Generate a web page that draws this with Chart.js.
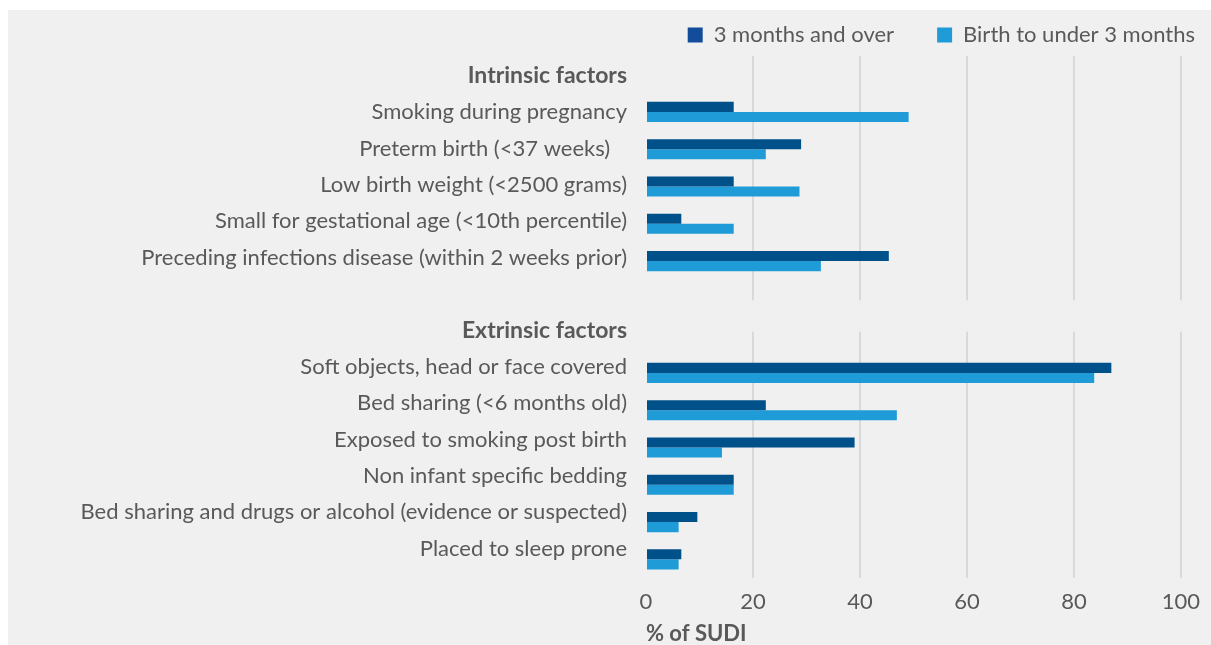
<!DOCTYPE html>
<html>
<head>
<meta charset="utf-8">
<script src="https://cdn.jsdelivr.net/npm/chart.js@4"></script>
<style>
  html, body { margin: 0; padding: 0; background: #ffffff; }
  .panel { position: absolute; left: 8px; top: 10px; width: 1203px; height: 635px; background: #f0f0f0; }
</style>
</head>
<body>
<div class="panel"><canvas id="sudiChart"></canvas></div>
<script>
// Categories (blank row separates the two groups)
const categories = [
    "Intrinsic factors",
    "Smoking during pregnancy",
    "Preterm birth (<37 weeks)   ",
    "Low birth weight (<2500 grams)",
    "Small for gestational age (<10th percentile)",
    "Preceding infections disease (within 2 weeks prior)",
    "",
    "Extrinsic factors",
    "Soft objects, head or face covered",
    "Bed sharing (<6 months old)",
    "Exposed to smoking post birth",
    "Non infant specific bedding",
    "Bed sharing and drugs or alcohol (evidence or suspected)",
    "Placed to sleep prone"
];
const headerRows = ["Intrinsic factors", "Extrinsic factors"];

// % of SUDI
const threeMonthsAndOver = [null, 16.4, 29.0, 16.4, 6.6, 45.4, null, null, 87.0, 22.4, 39.0, 16.4, 9.6, 6.6];
const birthToUnder3Months = [null, 49.1, 22.4, 28.7, 16.4, 32.7, null, null, 83.8, 46.9, 14.2, 16.4, 6.1, 6.1];

const xTicks = [0, 20, 40, 60, 80, 100];

const barColors = ["#00508a", "#1f9bd7"];
const legendColors = ["#134c9a", "#1f9bd7"];
const textColor = "#595959";
const bgColor = "#f0f0f0";
const fontFamily = "Lato, 'Open Sans', sans-serif";

// hides the gridlines in the blank row between the two groups
const groupGap = {
    id: "groupGap",
    beforeDatasetsDraw(chart) {
        const y = chart.scales.y;
        const area = chart.chartArea;
        const gapIdx = categories.indexOf("");
        const top = y.getPixelForValue(gapIdx) + 2;
        const bottom = y.getPixelForValue(gapIdx + 1) - 4;
        const ctx = chart.ctx;
        ctx.save();
        ctx.fillStyle = bgColor;
        ctx.fillRect(area.left - 3, top, area.right - area.left + 6, bottom - top);
        ctx.restore();
    }
};

// category labels in the original sit on a slightly tighter pitch than the bars
const labelPitch = {
    id: "labelPitch",
    beforeDraw(chart) {
        const y = chart.scales.y;
        const step = y.getPixelForValue(1) - y.getPixelForValue(0);
        const first = y.getPixelForValue(0) + 1;
        y.getLabelItems(chart.chartArea).forEach(item => {
            const i = categories.indexOf(item.label);
            if (i >= 0) item.options.translation[1] = first + i * step * 0.976;
        });
    }
};

new Chart(document.getElementById("sudiChart"), {
    type: "bar",
    data: {
        labels: categories,
        datasets: [
            { label: "3 months and over", data: threeMonthsAndOver, backgroundColor: barColors[0] },
            { label: "Birth to under 3 months", data: birthToUnder3Months, backgroundColor: barColors[1] }
        ]
    },
    options: {
        indexAxis: "y",
        responsive: true,
        maintainAspectRatio: false,
        animation: false,
        categoryPercentage: 0.54,
        barPercentage: 1.0,
        layout: { padding: { top: -29, right: -27, left: 0, bottom: 0 } },
        plugins: {
            legend: {
                position: "top",
                align: "end",
                labels: {
                    boxWidth: 15,
                    boxHeight: 15,
                    padding: 43,
                    color: textColor,
                    font: { family: fontFamily, size: 22 },
                    generateLabels(chart) {
                        const items = Chart.defaults.plugins.legend.labels.generateLabels(chart);
                        items.forEach((it, i) => { it.fillStyle = legendColors[i]; it.strokeStyle = legendColors[i]; it.lineWidth = 0; });
                        return items;
                    }
                }
            },
            tooltip: { enabled: false }
        },
        scales: {
            x: {
                min: 0,
                max: 100,
                afterBuildTicks(scale) { scale.ticks = xTicks.map(v => ({ value: v })); },
                afterFit(scale) { scale.height = 67; },
                border: { display: false },
                grid: {
                    drawTicks: false,
                    lineWidth: 2,
                    color: ctx => (ctx.tick && ctx.tick.value === 0) ? "rgba(0,0,0,0)" : "#d9d9d9"
                },
                ticks: {
                    padding: 11,
                    color: textColor,
                    font: { family: fontFamily, size: 22 }
                },
                title: {
                    display: true,
                    text: "% of SUDI",
                    align: "start",
                    color: textColor,
                    font: { family: fontFamily, size: 22, weight: "bold", lineHeight: 1.0 },
                    padding: { top: 0, bottom: 0 }
                }
            },
            y: {
                border: { display: false },
                grid: { display: false, drawTicks: false },
                afterFit(scale) { scale.width = 638; },
                ticks: {
                    autoSkip: false,
                    padding: 19,
                    color: textColor,
                    font: ctx => headerRows.includes(categories[ctx.index])
                        ? { family: fontFamily, size: 23, weight: "bold" }
                        : { family: fontFamily, size: 22, weight: "normal" }
                }
            }
        }
    },
    plugins: [groupGap, labelPitch]
});
</script>
</body>
</html>
